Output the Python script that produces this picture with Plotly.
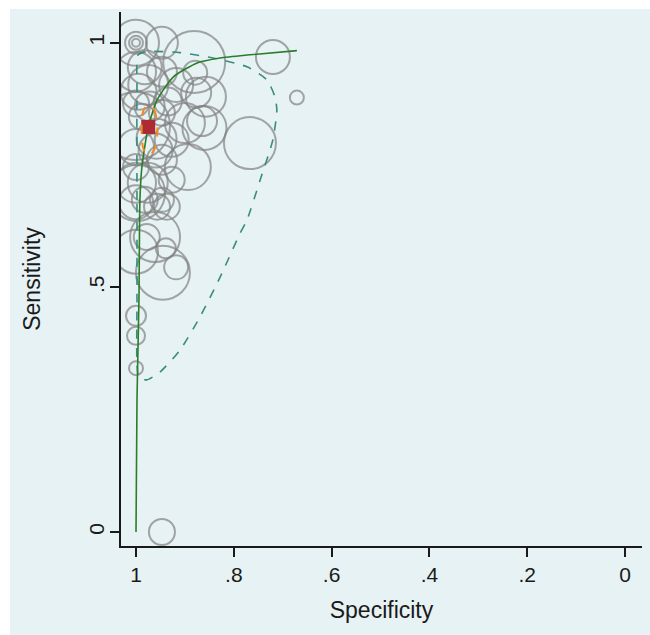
import plotly.graph_objects as go

# ---- study estimates (specificity, sensitivity, marker diameter ~ study weight) ----
study_spec = [1.000, 1.000, 1.000, 1.000, 0.947, 0.881, 0.879, 0.720, 0.671, 0.767,
              1.000, 0.982, 0.947, 0.995, 0.975, 0.918, 0.877, 1.000, 0.857,
              0.988, 0.947, 0.900, 0.865, 0.860, 0.927, 1.000, 0.947, 0.894, 1.000,
              1.000, 0.976, 0.927, 0.982, 0.947, 1.000, 0.998, 0.958, 0.972, 0.935, 0.960,
              1.000, 0.957, 0.937, 1.000, 0.961, 0.945, 0.918, 0.939, 0.978,
              1.000, 1.000, 1.000, 0.947]
study_sens = [1.000, 1.000, 1.000, 1.000, 1.000, 0.961, 0.939, 0.971, 0.888, 0.795,
              0.941, 0.950, 0.941, 0.900, 0.914, 0.914, 0.898, 0.876, 0.890,
              0.849, 0.857, 0.836, 0.840, 0.826, 0.802, 0.787, 0.761, 0.746, 0.746,
              0.714, 0.714, 0.720, 0.679, 0.679, 0.830, 0.693, 0.804, 0.870, 0.880, 0.780,
              0.674, 0.665, 0.665, 0.573, 0.603, 0.530, 0.541, 0.580, 0.603,
              0.442, 0.401, 0.335, 0.000]
study_weight = [46, 8, 14, 22, 32, 62, 24, 34, 14, 52,
                40, 34, 30, 36, 40, 34, 30, 26, 40,
                26, 26, 40, 30, 44, 34, 36, 30, 46, 26,
                40, 40, 26, 26, 24, 68, 56, 40, 30, 28, 34,
                34, 26, 26, 44, 50, 54, 24, 20, 26,
                20, 18, 14, 26]

# ---- summary point ----
summary_spec = [0.975]
summary_sens = [0.828]

# ---- 95% confidence region ----
conf_spec = [0.973, 0.963, 0.957, 0.957, 0.963, 0.973, 0.984, 0.988, 0.988, 0.984, 0.973]
conf_sens = [0.873, 0.863, 0.838, 0.806, 0.781, 0.771, 0.781, 0.806, 0.838, 0.863, 0.873]

# ---- 95% prediction region ----
pred_spec = [0.998, 0.998, 0.998, 0.996, 0.978, 0.910, 0.843, 0.773, 0.732, 0.716, 0.712,
             0.720, 0.746, 0.773, 0.787, 0.828, 0.869, 0.910, 0.951, 0.978, 0.994, 0.998, 0.998]
pred_sens = [0.474, 0.679, 0.918, 0.975, 0.982, 0.980, 0.969, 0.951, 0.924, 0.890, 0.863,
             0.802, 0.720, 0.638, 0.611, 0.521, 0.440, 0.372, 0.327, 0.311, 0.315, 0.342, 0.474]

# ---- HSROC curve ----
sroc_spec = [1.000, 0.998, 0.994, 0.992, 0.988, 0.975, 0.957, 0.924, 0.875, 0.828, 0.773, 0.671]
sroc_sens = [0.000, 0.270, 0.474, 0.679, 0.746, 0.828, 0.883, 0.930, 0.959, 0.969, 0.975, 0.984]

x_ticks = [1, 0.8, 0.6, 0.4, 0.2, 0]
x_ticklabels = ["1", ".8", ".6", ".4", ".2", "0"]
y_ticks = [0, 0.5, 1]
y_ticklabels = ["0", ".5", "1"]

fig = go.Figure()

fig.add_trace(go.Scatter(
    x=study_spec, y=study_sens, mode="markers",
    marker=dict(symbol="circle-open", size=study_weight, color="#828282",
                line=dict(width=2, color="#828282")),
    showlegend=False, hoverinfo="skip"))

fig.add_trace(go.Scatter(
    x=pred_spec, y=pred_sens, mode="lines",
    line=dict(color="#3a8c7c", width=1.6, dash="dash", shape="spline", smoothing=0.6),
    showlegend=False, hoverinfo="skip"))

fig.add_trace(go.Scatter(
    x=sroc_spec, y=sroc_sens, mode="lines",
    line=dict(color="#2a7d2a", width=1.6, shape="spline", smoothing=0.6),
    showlegend=False, hoverinfo="skip"))

fig.add_trace(go.Scatter(
    x=summary_spec, y=summary_sens, mode="markers",
    marker=dict(symbol="square", size=14, color="#ad2a33"),
    showlegend=False, hoverinfo="skip"))

fig.add_trace(go.Scatter(
    x=conf_spec, y=conf_sens, mode="lines",
    line=dict(color="#f28a1c", width=2, dash="dash", shape="spline", smoothing=1),
    showlegend=False, hoverinfo="skip"))

font_family = "Liberation Sans, Arial, sans-serif"

fig.update_layout(
    width=650, height=635,
    margin=dict(l=121, r=8, t=12, b=89, autoexpand=False),
    paper_bgcolor="white",
    plot_bgcolor="rgba(0,0,0,0)",
    font=dict(family=font_family, size=21, color="#1a1a1a"),
    shapes=[dict(type="rect", xref="paper", yref="paper",
                 x0=-0.213, x1=1.02, y0=-0.17, y1=1.0056,
                 fillcolor="#e7f2f4", line=dict(width=0), layer="below")],
    xaxis=dict(
        range=[1.0307, -0.0348], autorange=False, automargin=False,
        tickvals=x_ticks, ticktext=x_ticklabels,
        ticks="outside", ticklen=9, tickwidth=1.5, tickcolor="#1a1a1a",
        showline=True, linecolor="#1a1a1a", linewidth=1.5,
        showgrid=False, zeroline=False,
        title=dict(text="Specificity", font=dict(size=23), standoff=17),
    ),
    yaxis=dict(
        range=[-0.0286, 1.063], autorange=False, automargin=False,
        tickvals=y_ticks, ticktext=y_ticklabels, tickangle=-90,
        ticks="outside", ticklen=9, tickwidth=1.5, tickcolor="#1a1a1a",
        ticklabelstandoff=-2,
        showline=True, linecolor="#1a1a1a", linewidth=1.5,
        showgrid=False, zeroline=False,
        title=dict(text="Sensitivity", font=dict(size=23), standoff=38),
    ),
)

fig.write_html("out.html",
               config={"displayModeBar": False},
               post_script="document.body.style.margin='0';document.body.style.overflow='hidden';")
